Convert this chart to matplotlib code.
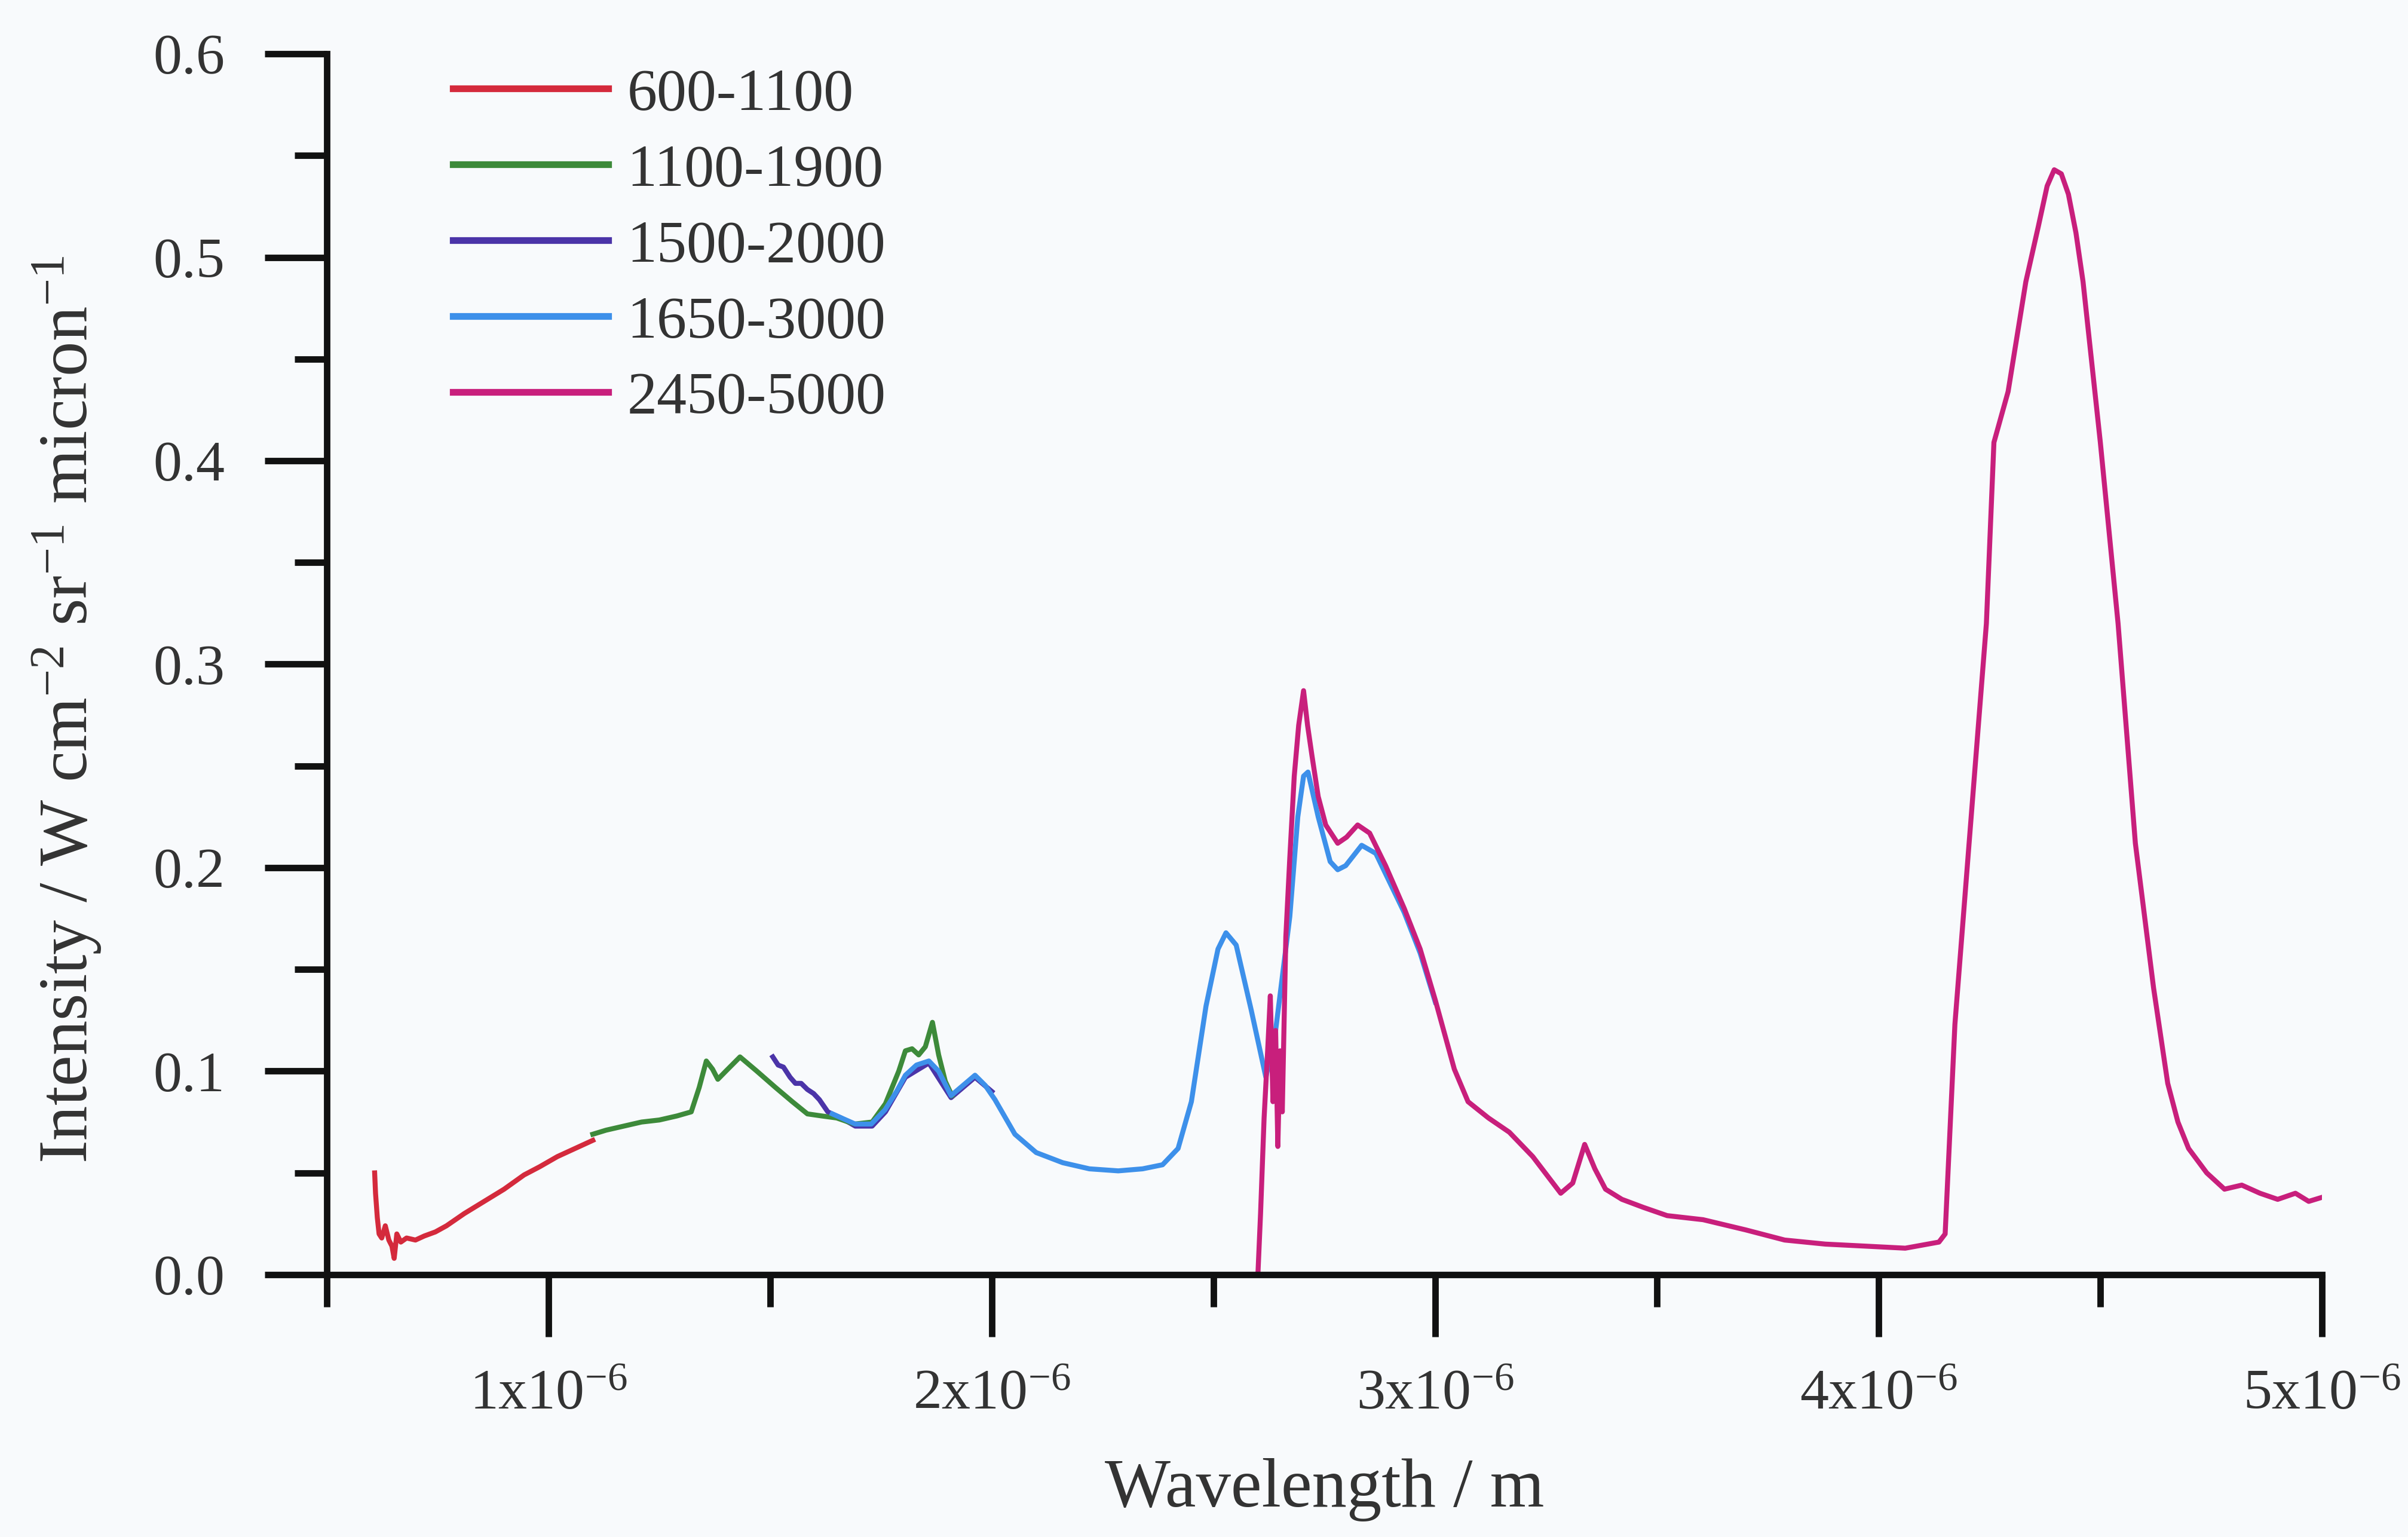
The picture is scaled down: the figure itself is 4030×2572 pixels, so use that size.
import matplotlib
matplotlib.use("Agg")
import matplotlib.pyplot as plt
from matplotlib.ticker import MultipleLocator, FixedLocator, FormatStrFormatter

plt.rcParams['font.family'] = ['Liberation Serif', 'DejaVu Serif']
plt.rcParams['mathtext.fontset'] = 'custom'
plt.rcParams['mathtext.rm'] = 'Liberation Serif'
plt.rcParams['mathtext.it'] = 'Liberation Serif:italic'
plt.rcParams['mathtext.bf'] = 'Liberation Serif:bold'

# ---------------- data (wavelength in micron, intensity) ----------------
series_labels = ['600-1100', '1100-1900', '1500-2000', '1650-3000', '2450-5000']
series_colors = ['#d42a3c', '#3d8a3a', '#4b34a8', '#3d90ea', '#c81f7c']

red_x = [0.608, 0.610, 0.614, 0.618, 0.624, 0.632, 0.640, 0.647, 0.652, 0.658, 0.667, 0.680,
         0.700, 0.720, 0.745, 0.770, 0.810, 0.855, 0.900, 0.945, 0.980, 1.020, 1.060, 1.100]
red_y = [0.050, 0.040, 0.028, 0.020, 0.018, 0.024, 0.017, 0.014, 0.008, 0.020, 0.016, 0.018,
         0.017, 0.019, 0.021, 0.024, 0.030, 0.036, 0.042, 0.049, 0.053, 0.058, 0.062, 0.066]

green_x = [1.100, 1.130, 1.170, 1.210, 1.250, 1.290, 1.322, 1.340, 1.356, 1.370, 1.382, 1.400,
           1.432, 1.470, 1.512, 1.550, 1.584, 1.616, 1.650, 1.690, 1.730, 1.760, 1.790, 1.805,
           1.820, 1.835, 1.850, 1.866, 1.880, 1.895, 1.910]
green_y = [0.069, 0.071, 0.073, 0.075, 0.076, 0.078, 0.080, 0.092, 0.105, 0.101, 0.096, 0.100,
           0.107, 0.100, 0.092, 0.085, 0.079, 0.078, 0.077, 0.074, 0.075, 0.084, 0.100, 0.110,
           0.111, 0.108, 0.112, 0.124, 0.108, 0.095, 0.088]

purple_x = [1.506, 1.518, 1.530, 1.545, 1.557, 1.570, 1.584, 1.598, 1.611, 1.630, 1.660, 1.692,
            1.730, 1.760, 1.805, 1.858, 1.908, 1.962, 2.000]
purple_y = [0.107, 0.103, 0.102, 0.097, 0.094, 0.094, 0.091, 0.089, 0.086, 0.080, 0.077, 0.073,
            0.073, 0.080, 0.097, 0.104, 0.087, 0.097, 0.090]

blue_x = [1.640, 1.692, 1.728, 1.759, 1.785, 1.805, 1.830, 1.858, 1.880, 1.908, 1.935, 1.962,
          1.985, 2.007, 2.052, 2.100, 2.160, 2.220, 2.285, 2.340, 2.385, 2.420, 2.450, 2.483,
          2.510, 2.528, 2.551, 2.585, 2.618, 2.640, 2.672, 2.690, 2.703, 2.713, 2.736, 2.763,
          2.780, 2.798, 2.834, 2.866, 2.888, 2.930, 2.966, 3.000]
blue_y = [0.079, 0.074, 0.074, 0.081, 0.090, 0.098, 0.103, 0.105, 0.100, 0.088, 0.093, 0.098,
          0.093, 0.086, 0.069, 0.060, 0.055, 0.052, 0.051, 0.052, 0.054, 0.062, 0.085, 0.132,
          0.160, 0.168, 0.162, 0.130, 0.097, 0.120, 0.176, 0.225, 0.245, 0.247, 0.225, 0.203,
          0.199, 0.201, 0.211, 0.207, 0.197, 0.178, 0.158, 0.134]

magenta_x = [2.600, 2.606, 2.614, 2.622, 2.628, 2.634, 2.640, 2.645, 2.650, 2.655, 2.663, 2.672,
             2.682, 2.692, 2.703, 2.712, 2.722, 2.736, 2.753, 2.780, 2.800, 2.825, 2.852, 2.888,
             2.930, 2.966, 3.000, 3.043, 3.074, 3.120, 3.167, 3.220, 3.283, 3.310, 3.337, 3.360,
             3.384, 3.421, 3.470, 3.523, 3.604, 3.700, 3.788, 3.880, 3.971, 4.060, 4.136, 4.150,
             4.172, 4.204, 4.243, 4.260, 4.292, 4.332, 4.360, 4.380, 4.396, 4.412, 4.428, 4.445,
             4.461, 4.500, 4.540, 4.579, 4.620, 4.652, 4.675, 4.699, 4.740, 4.780, 4.819, 4.860,
             4.900, 4.940, 4.970, 5.000]
magenta_y = [0.000, 0.030, 0.077, 0.110, 0.137, 0.085, 0.120, 0.063, 0.110, 0.080, 0.166, 0.205,
             0.245, 0.270, 0.287, 0.270, 0.255, 0.235, 0.221, 0.212, 0.215, 0.221, 0.217, 0.201,
             0.180, 0.160, 0.135, 0.101, 0.085, 0.077, 0.070, 0.058, 0.040, 0.045, 0.064, 0.052,
             0.042, 0.037, 0.033, 0.029, 0.027, 0.022, 0.017, 0.015, 0.014, 0.013, 0.016, 0.020,
             0.123, 0.212, 0.320, 0.409, 0.434, 0.488, 0.515, 0.535, 0.543, 0.541, 0.531, 0.512,
             0.488, 0.409, 0.320, 0.212, 0.141, 0.094, 0.075, 0.062, 0.050, 0.042, 0.044, 0.040,
             0.037, 0.040, 0.036, 0.038]

xtick_values = [1e-6, 2e-6, 3e-6, 4e-6, 5e-6]
xtick_labels = ['1x10$^{-6}$', '2x10$^{-6}$', '3x10$^{-6}$', '4x10$^{-6}$', '5x10$^{-6}$']

x_label = 'Wavelength / m'
y_label = 'Intensity / W cm$^{-2}$ sr$^{-1}$ micron$^{-1}$'

# ---------------- figure ----------------
bg = '#f8fafc'
fig = plt.figure(figsize=(4030 / 300, 2572 / 300), dpi=300, facecolor=bg)
ax = fig.add_axes([0.1357, 0.1707, 0.8286, 0.7943], facecolor=bg)

xs_list = [red_x, green_x, purple_x, blue_x, magenta_x]
ys_list = [red_y, green_y, purple_y, blue_y, magenta_y]
zorders = [3, 3, 2, 4, 5]
for xs, ys, lab, col, z in zip(xs_list, ys_list, series_labels, series_colors, zorders):
    ax.plot([v * 1e-6 for v in xs], ys, color=col, lw=2.0, label=lab, zorder=z,
            solid_joinstyle='round')

ax.set_xlim(0.5e-6, 5e-6)
ax.set_ylim(0, 0.6)

ax.xaxis.set_major_locator(FixedLocator(xtick_values))
ax.set_xticklabels(xtick_labels)
ax.xaxis.set_minor_locator(MultipleLocator(0.5e-6))
ax.yaxis.set_major_locator(MultipleLocator(0.1))
ax.yaxis.set_minor_locator(MultipleLocator(0.05))
ax.yaxis.set_major_formatter(FormatStrFormatter('%.1f'))

for s in ['top', 'right']:
    ax.spines[s].set_visible(False)
for s in ['left', 'bottom']:
    ax.spines[s].set_linewidth(2.6)
    ax.spines[s].set_color('#111111')
    ax.spines[s].set_zorder(6)

ax.tick_params(which='major', direction='out', length=25, width=2.6, color='#111111',
               labelsize=23, pad=13, labelcolor='#333333')
ax.tick_params(which='minor', direction='out', length=13, width=2.6, color='#111111')
ax.tick_params(axis='y', which='major', pad=16)

ax.set_xlabel(x_label, fontsize=28, labelpad=15, color='#333333')
ax.set_ylabel(y_label, fontsize=28, color='#333333')
ax.yaxis.set_label_coords(-0.112, 0.463)

leg = ax.legend(loc='upper left', bbox_to_anchor=(0.188, 0.956), bbox_transform=fig.transFigure,
                frameon=False, fontsize=24, borderpad=0, borderaxespad=0,
                handlelength=2.6, handletextpad=0.32, labelspacing=0.36)
for line in leg.get_lines():
    line.set_linewidth(2.7)
for t in leg.get_texts():
    t.set_color('#333333')

fig.savefig('out.png', dpi=300, facecolor=bg)
